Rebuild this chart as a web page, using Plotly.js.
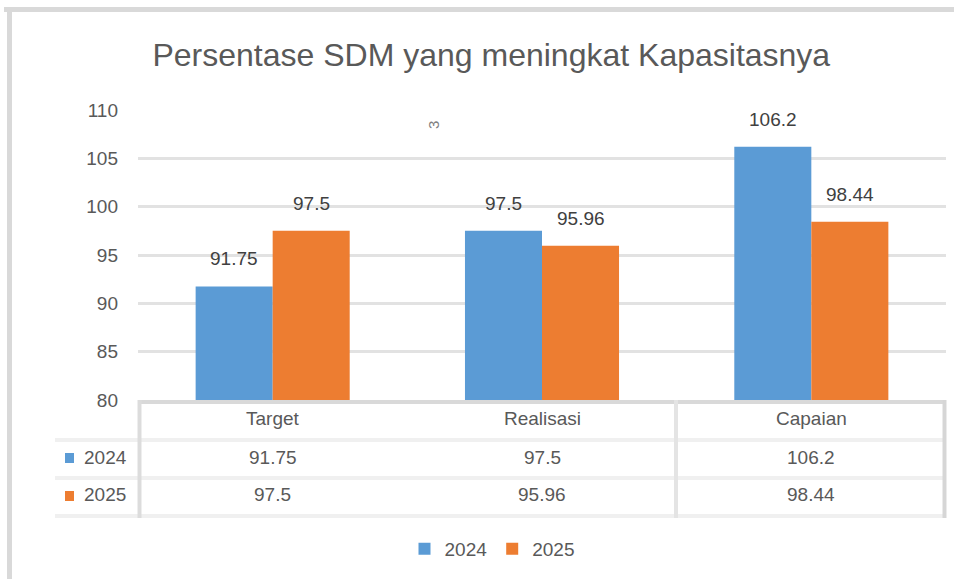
<!DOCTYPE html>
<html>
<head>
<meta charset="utf-8">
<script src="https://cdn.plot.ly/plotly-3.0.1.min.js"></script>
<style>html,body{margin:0;padding:0;background:#fff;}#chart{width:954px;height:579px;}</style>
</head>
<body>
<div id="chart"></div>
<script>
// ---- data ----
const categories = ['Target', 'Realisasi', 'Capaian'];
const seriesNames = ['2024', '2025'];
const values2024 = [91.75, 97.5, 106.2];
const values2025 = [97.5, 95.96, 98.44];
const yTicks = [80, 85, 90, 95, 100, 105, 110];
const titleText = 'Persentase SDM yang meningkat Kapasitasnya';
const strayLabel = '3';

// ---- styling ----
const W = 954, H = 579;
const M = {l: 138, r: 8, t: 110, b: 179};
const plotW = W - M.l - M.r, plotH = H - M.t - M.b;
const px = x => (x - M.l) / plotW;
const py = y => (H - M.b - y) / plotH;
const FONT = 'Liberation Sans, Arial, sans-serif';
const TXT = '#595959';
const colors = ['#5b9bd5', '#ed7d31'];
const allSeries = [values2024, values2025];

const traces = allSeries.map((vals, i) => ({
  type: 'bar', name: seriesNames[i], x: categories, y: vals,
  marker: {color: colors[i]}, hoverinfo: 'skip'
}));

const annotations = [];
// data labels
const barOff = 38.5;
allSeries.forEach((vals, i) => {
  vals.forEach((v, j) => {
    annotations.push({
      x: categories[j], y: v, xref: 'x', yref: 'y', text: String(v),
      showarrow: false, yanchor: 'bottom', yshift: 15, xshift: (i === 0 ? -barOff : barOff),
      font: {family: FONT, size: 19, color: '#404040'}
    });
  });
});
// table header and cells
const rowY = [418, 457, 495];
categories.forEach((c, j) => {
  annotations.push({x: c, y: py(rowY[0]), xref: 'x', yref: 'paper', text: c, showarrow: false,
    yanchor: 'middle', font: {family: FONT, size: 19, color: TXT}});
  allSeries.forEach((vals, i) => {
    annotations.push({x: c, y: py(rowY[i + 1]), xref: 'x', yref: 'paper', text: String(vals[j]),
      showarrow: false, yanchor: 'middle', font: {family: FONT, size: 19, color: TXT}});
  });
});
seriesNames.forEach((n, i) => {
  annotations.push({x: px(82), y: py(rowY[i + 1]), xref: 'paper', yref: 'paper', text: n,
    showarrow: false, xanchor: 'left', yanchor: 'middle', font: {family: FONT, size: 19, color: TXT}});
});
annotations.push({x: px(434), y: py(119), xref: 'paper', yref: 'paper', text: strayLabel,
  showarrow: false, textangle: -90, font: {family: FONT, size: 15, color: '#7f7f7f'}});

const shapes = [];
const hline = (y, x0, x1, color, w) => shapes.push({type: 'line', xref: 'paper', yref: 'paper',
  x0: px(x0), x1: px(x1), y0: py(y), y1: py(y), line: {color: color, width: w}});
const vline = (x, y0, y1, color, w) => shapes.push({type: 'line', xref: 'paper', yref: 'paper',
  x0: px(x), x1: px(x), y0: py(y0), y1: py(y1), line: {color: color, width: w}});
// outer border (top & left)
hline(9.5, 4, 960, '#d9d9d9', 5);
vline(9.5, 7, 590, '#d9d9d9', 5);
// table rows
[440, 478, 516].forEach(y => hline(y, 55, 946, '#f0f0f0', 4));
// table verticals
vline(139.5, 400, 518, '#dcdcdc', 4);
vline(676, 400, 518, '#e4e4e4', 4);
vline(944.5, 400, 518, '#d6d6d6', 4);
// legend keys in table
seriesNames.forEach((n, i) => {
  const cy = rowY[i + 1] + 1;
  shapes.push({type: 'rect', xref: 'paper', yref: 'paper', x0: px(65), x1: px(74),
    y0: py(cy - 5), y1: py(cy + 5), fillcolor: colors[i], line: {width: 0}});
});

const layout = {
  width: W, height: H, margin: M,
  paper_bgcolor: '#ffffff', plot_bgcolor: '#ffffff',
  font: {family: FONT, color: TXT},
  title: {text: titleText, x: 0.515, xanchor: 'center', y: 1 - 55 / H, yanchor: 'middle',
    font: {family: FONT, size: 32, color: TXT}},
  barmode: 'group', bargap: 0.428, bargroupgap: 0,
  xaxis: {showline: true, linecolor: '#d9d9d9', linewidth: 4, showticklabels: false,
    ticks: '', showgrid: false, zeroline: false, fixedrange: true},
  yaxis: {range: [80, 110], tickvals: yTicks, ticktext: yTicks.map(String), showgrid: true,
    gridcolor: '#e2e2e2', gridwidth: 3, zeroline: false, showline: false, ticks: '',
    ticklabelstandoff: 19, tickfont: {family: FONT, size: 19, color: TXT}, fixedrange: true},
  showlegend: true,
  legend: {orientation: 'h', x: px(492), xanchor: 'center', y: py(549), yanchor: 'middle',
    font: {family: FONT, size: 19, color: TXT}, bgcolor: 'rgba(0,0,0,0)'},
  annotations: annotations, shapes: shapes
};

Plotly.newPlot('chart', traces, layout, {displayModeBar: false, staticPlot: true});
</script>
</body>
</html>
